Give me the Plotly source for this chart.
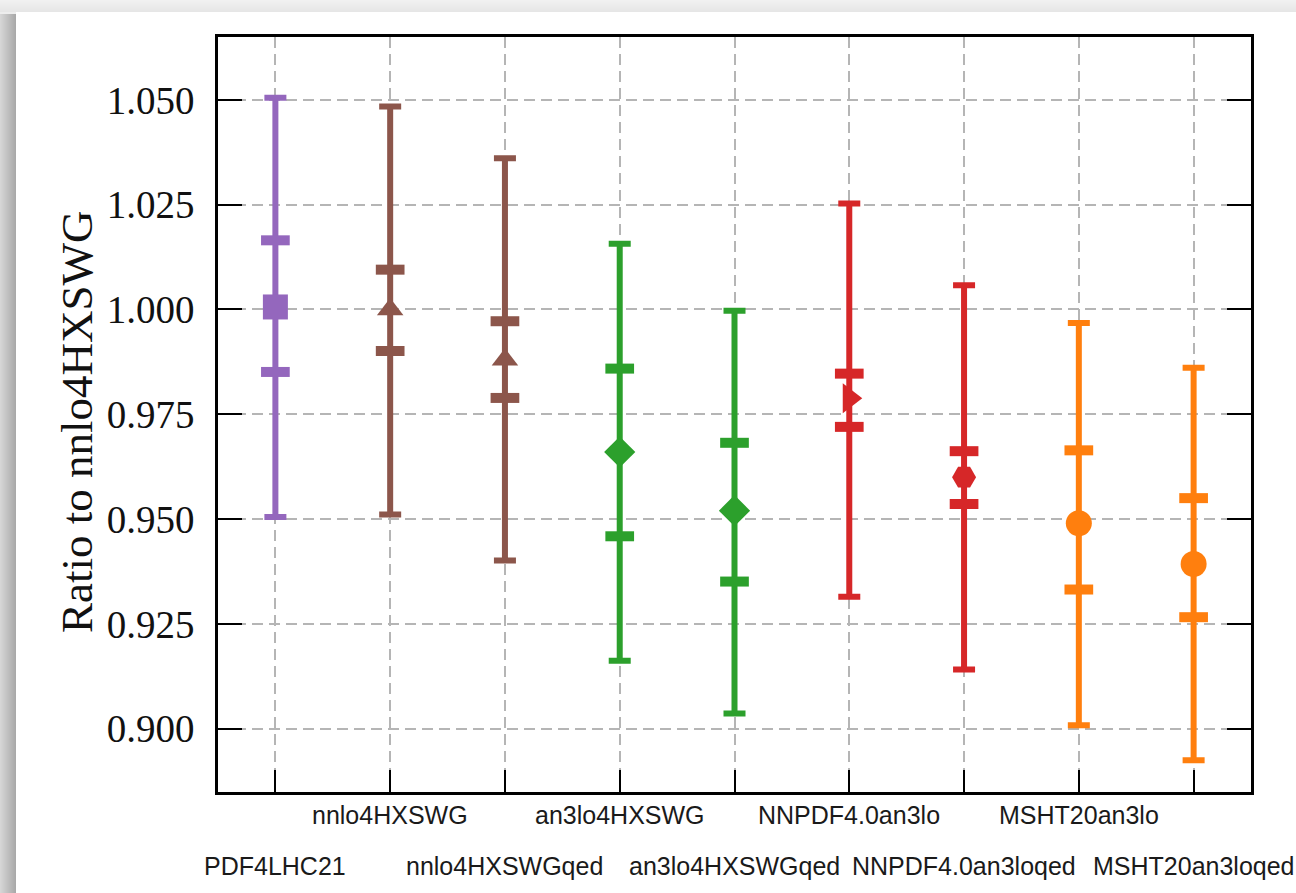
import plotly.graph_objects as go

# PDF sets compared, ratio of the cross section to nnlo4HXSWG
categories = [
    "PDF4LHC21", "nnlo4HXSWG", "nnlo4HXSWGqed", "an3lo4HXSWG", "an3lo4HXSWGqed",
    "NNPDF4.0an3lo", "NNPDF4.0an3loqed", "MSHT20an3lo", "MSHT20an3loqed",
]
central = [1.0006, 1.0000, 0.9880, 0.9660, 0.9520, 0.9788, 0.9600, 0.9490, 0.9393]
# full uncertainty band (outer caps)
outer_hi = [1.0505, 1.0484, 1.0361, 1.0157, 0.9997, 1.0253, 1.0058, 0.9968, 0.9861]
outer_lo = [0.9505, 0.9511, 0.9401, 0.9162, 0.9036, 0.9315, 0.9141, 0.9008, 0.8925]
# PDF-only uncertainty (inner caps)
inner_hi = [1.0165, 1.0095, 0.9972, 0.9859, 0.9682, 0.9847, 0.9662, 0.9664, 0.9550]
inner_lo = [0.9851, 0.9901, 0.9789, 0.9459, 0.9351, 0.9720, 0.9536, 0.9332, 0.9266]
y_ticks = [0.900, 0.925, 0.950, 0.975, 1.000, 1.025, 1.050]

colors = ["#9467bd", "#8c564b", "#8c564b", "#2ca02c", "#2ca02c",
          "#d62728", "#d62728", "#ff7f0e", "#ff7f0e"]
symbols = ["square", "triangle-up", "triangle-up", "diamond", "diamond",
           "triangle-right", "hexagon2", "circle", "circle"]
sizes = [25, 23, 23, 24, 24, 26, 24, 26, 26]

W, H = 1296, 893
L, R, T, B = 218, 1251, 37, 792  # plot area in pixels

fig = go.Figure()

for i, name in enumerate(categories):
    c = central[i]
    fig.add_trace(go.Scatter(
        x=[i], y=[c], mode="markers", name=name, showlegend=False,
        marker=dict(symbol=symbols[i], size=sizes[i], color=colors[i],
                    line=dict(width=0)),
        error_y=dict(type="data", symmetric=False,
                     array=[outer_hi[i] - c], arrayminus=[c - outer_lo[i]],
                     color=colors[i], thickness=6, width=11),
    ))
    # inner caps marking the PDF-only band
    fig.add_trace(go.Scatter(
        x=[i, i], y=[inner_hi[i], inner_lo[i]], mode="markers", showlegend=False,
        marker=dict(symbol="line-ew", size=20.5, color=colors[i],
                    line=dict(width=10, color=colors[i])),
    ))

# tick labels on two alternating rows
for i, name in enumerate(categories):
    fig.add_annotation(
        x=i, xref="x", y=0, yref="paper", yanchor="middle", xanchor="center",
        yshift=-23 if i % 2 else -74, text=name, showarrow=False,
        font=dict(family="Liberation Sans", size=25, color="#1a1a1a"),
    )

fig.add_annotation(
    x=(77 - L) / (R - L), xref="paper", y=0.49, yref="paper",
    xanchor="center", yanchor="middle", textangle=-90, showarrow=False,
    text="Ratio to nnlo4HXSWG",
    font=dict(family="Liberation Serif", size=45, color="#111111"),
)


def px_x(p):
    return (p - L) / (R - L)


def px_y(p):
    return (B - p) / (B - T)


shapes = []
# page card with a soft shadow on its left and top edges
for k in range(12):
    g = int(241 - k * 1.0)
    shapes.append(dict(type="rect", xref="paper", yref="paper", layer="below",
                       x0=px_x(0), x1=px_x(W + 5), y0=px_y(k), y1=px_y(k + 1),
                       fillcolor=f"rgb({g},{g},{g})", line=dict(width=0)))
for k in range(16):
    g = int(214 - k * 3.0)
    shapes.append(dict(type="rect", xref="paper", yref="paper", layer="below",
                       x0=px_x(k), x1=px_x(k + 1), y0=px_y(14), y1=px_y(H + 5),
                       fillcolor=f"rgb({g},{g},{g})", line=dict(width=0)))
shapes.append(dict(type="rect", xref="paper", yref="paper", layer="below",
                   x0=px_x(16), x1=px_x(W + 5), y0=px_y(H + 5), y1=px_y(12),
                   fillcolor="white", line=dict(width=0)))

fig.update_layout(
    width=W, height=H,
    margin=dict(l=L, r=W - R, t=T, b=H - B, pad=0),
    paper_bgcolor="#ededed", plot_bgcolor="white",
    shapes=shapes,
    xaxis=dict(
        range=[-0.5, len(categories) - 0.5],
        tickvals=list(range(len(categories))), showticklabels=False,
        ticks="inside", ticklen=22, tickwidth=2.2, tickcolor="black",
        showline=True, linecolor="black", linewidth=2.5, mirror=True,
        showgrid=True, gridcolor="#b5b5b5", gridwidth=2.2, griddash="11px,6px",
        zeroline=False,
    ),
    yaxis=dict(
        range=[0.8849, 1.0650], tickvals=y_ticks, tickformat=".3f",
        ticks="inside", ticklen=24, tickwidth=2.2, tickcolor="black",
        showline=True, linecolor="black", linewidth=2.5, mirror="ticks",
        showgrid=True, gridcolor="#b5b5b5", gridwidth=2.2, griddash="11px,6px",
        zeroline=False, ticklabelstandoff=13,
        tickfont=dict(family="Liberation Serif", size=39, color="#111111"),
    ),
)

fig.write_html("out.html")
